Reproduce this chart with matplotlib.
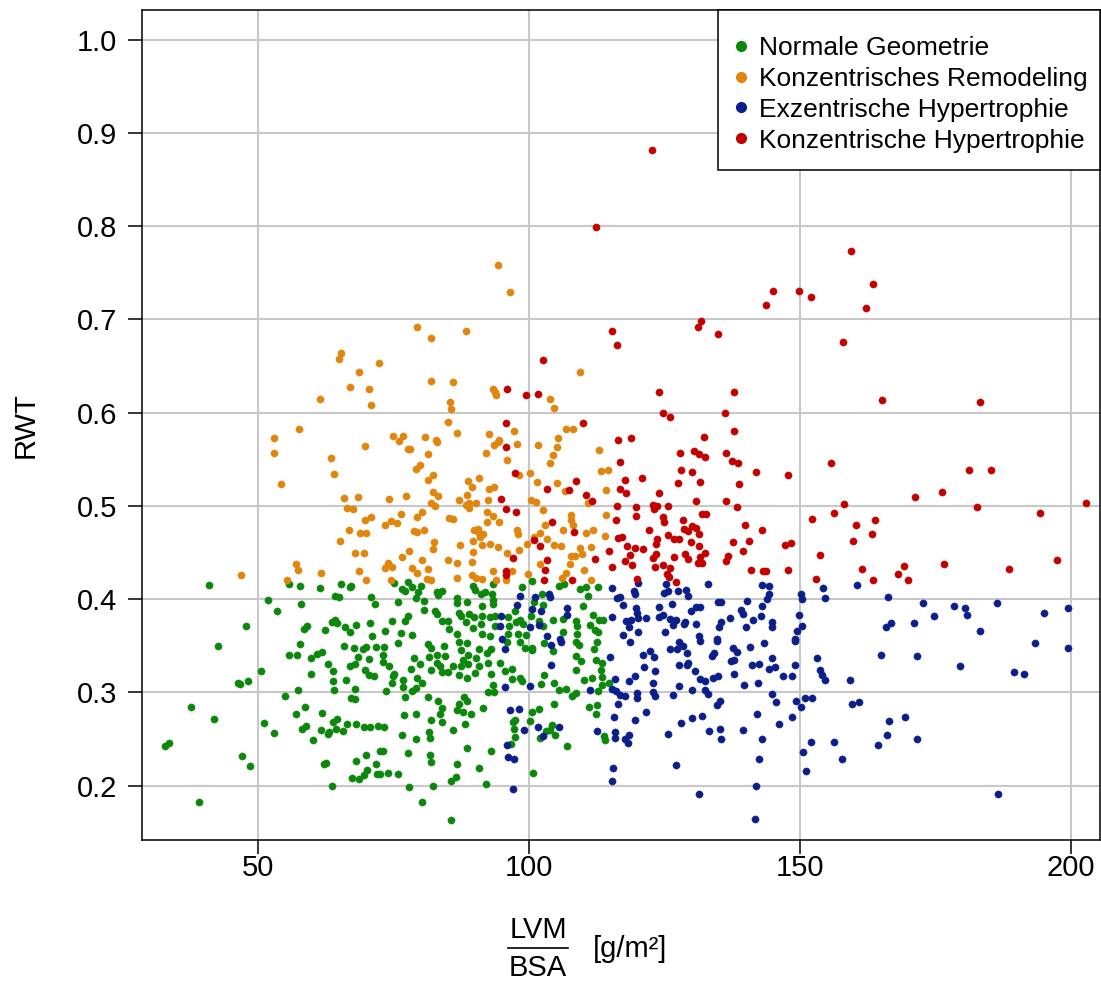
"""plot.py — RWT vs. indexed LV mass, scatter by geometry class."""

import matplotlib
matplotlib.use("Agg")
import matplotlib.pyplot as plt
from matplotlib.lines import Line2D
from matplotlib.patches import Rectangle

# ---------------------------------------------------------------------------
# Data (LVM/BSA [g/m²], RWT)
# ---------------------------------------------------------------------------

normal_geometry = [
    # left sparse part
    (40.9, 0.415), (55.8, 0.416), (57.8, 0.414), (61.4, 0.412), (65.3, 0.416), (66.9, 0.413),
    (67.2, 0.414), (51.9, 0.399), (57.9, 0.395), (53.5, 0.387), (64.2, 0.403), (65.0, 0.402),
    (70.8, 0.402), (71.6, 0.395), (47.8, 0.371), (58.4, 0.368), (59.1, 0.371), (62.3, 0.367),
    (63.6, 0.376), (64.2, 0.378), (64.6, 0.374), (66.1, 0.370), (66.9, 0.365), (68.0, 0.372),
    (70.6, 0.374), (71.0, 0.360),
    (42.6, 0.350), (57.8, 0.352), (55.7, 0.340), (57.2, 0.340), (59.7, 0.337), (60.8, 0.341),
    (61.8, 0.343), (65.8, 0.350), (67.8, 0.348), (69.3, 0.347), (70.0, 0.349), (71.8, 0.349),
    (68.4, 0.338), (70.5, 0.336), (62.9, 0.330), (67.0, 0.328), (67.9, 0.330), (63.9, 0.323),
    (69.8, 0.324), (70.4, 0.319), (71.4, 0.318), (50.6, 0.323), (59.8, 0.320), (46.3, 0.310),
    (46.7, 0.309), (48.2, 0.312), (63.9, 0.312), (66.2, 0.313), (57.4, 0.303), (64.1, 0.302),
    (67.9, 0.304), (54.9, 0.296), (67.2, 0.294), (67.9, 0.293), (37.6, 0.284), (41.9, 0.271),
    (57.1, 0.277), (58.6, 0.284), (61.8, 0.278), (51.2, 0.267), (53.0, 0.256), (58.1, 0.261),
    (58.8, 0.264), (60.1, 0.249), (61.6, 0.260), (63.0, 0.255), (63.1, 0.257), (63.9, 0.268),
    (64.6, 0.271), (64.4, 0.261), (65.6, 0.259), (66.5, 0.266), (68.0, 0.266), (69.6, 0.263),
    (70.7, 0.263), (72.1, 0.264), (32.8, 0.242), (33.6, 0.246), (47.0, 0.232), (48.5, 0.221),
    (62.1, 0.223), (62.5, 0.224), (68.1, 0.226), (69.9, 0.233), (71.7, 0.223), (70.1, 0.217),
    (69.6, 0.211), (67.3, 0.208), (68.7, 0.207), (72.0, 0.212), (63.7, 0.200), (39.1, 0.182),
    (72.5, 0.237),
    # dense middle, upper part
    (75.1, 0.417), (76.6, 0.411), (77.2, 0.409), (77.7, 0.418), (78.5, 0.413), (80.1, 0.414),
    (79.6, 0.408), (75.8, 0.397), (79.2, 0.401), (80.7, 0.398), (80.7, 0.388), (77.7, 0.382),
    (74.8, 0.377), (73.4, 0.366), (77.1, 0.377), (76.4, 0.364), (78.5, 0.362), (83.0, 0.408),
    (83.9, 0.409), (83.3, 0.404), (86.7, 0.401), (86.8, 0.396), (88.5, 0.397), (89.7, 0.414),
    (90.0, 0.410), (91.1, 0.405), (91.8, 0.408), (93.1, 0.406), (93.3, 0.416), (93.3, 0.399),
    (93.4, 0.395), (91.3, 0.393), (82.7, 0.387), (83.1, 0.384), (83.9, 0.377), (85.1, 0.377),
    (85.2, 0.368), (87.1, 0.385), (87.5, 0.382), (88.4, 0.376), (89.0, 0.384), (89.9, 0.381),
    (91.4, 0.382), (92.8, 0.381), (93.8, 0.382), (91.1, 0.373), (89.6, 0.369), (91.3, 0.363),
    (86.7, 0.363), (92.8, 0.360), (93.7, 0.371), (96.1, 0.381), (96.4, 0.371), (97.6, 0.376),
    (97.4, 0.387), (98.3, 0.378), (98.7, 0.413), (98.9, 0.373), (96.2, 0.363), (97.9, 0.363),
    (99.4, 0.362), (100.5, 0.419), (102.4, 0.406), (101.0, 0.397), (102.5, 0.394), (100.4, 0.382),
    (101.8, 0.377), (102.6, 0.371), (104.5, 0.378), (106.2, 0.379), (105.5, 0.414), (106.5, 0.416),
    (109.4, 0.411), (110.6, 0.413), (110.9, 0.403), (109.9, 0.393), (111.9, 0.383), (112.8, 0.413),
    (112.9, 0.378), (113.6, 0.378), (108.7, 0.377), (108.8, 0.371), (111.3, 0.372), (106.2, 0.365),
    (108.8, 0.363), (112.1, 0.367), (112.8, 0.365),
    # dense middle, lower part
    (75.9, 0.353), (73.2, 0.349), (73.0, 0.340), (73.0, 0.333), (74.2, 0.328), (75.1, 0.320),
    (75.0, 0.317), (74.8, 0.310), (73.6, 0.301), (76.8, 0.313), (76.7, 0.306), (78.7, 0.337),
    (79.9, 0.330), (78.2, 0.325), (79.3, 0.315), (80.2, 0.310), (79.2, 0.305), (78.4, 0.301),
    (77.1, 0.295), (81.4, 0.352), (82.0, 0.348), (84.3, 0.350), (81.5, 0.338), (83.1, 0.340),
    (84.5, 0.339), (83.0, 0.331), (83.6, 0.328), (82.0, 0.324), (83.9, 0.322), (85.1, 0.322),
    (85.9, 0.328), (87.1, 0.354), (88.6, 0.353), (87.4, 0.345), (88.8, 0.340), (87.8, 0.335),
    (87.4, 0.328), (88.8, 0.330), (90.3, 0.337), (90.8, 0.328), (90.8, 0.346), (92.2, 0.342),
    (93.0, 0.347), (92.5, 0.332), (87.0, 0.319), (88.6, 0.315), (90.0, 0.321), (93.0, 0.320),
    (93.3, 0.308), (92.5, 0.300), (93.6, 0.300), (81.3, 0.295), (83.3, 0.291), (83.9, 0.283),
    (83.5, 0.277), (88.0, 0.295), (88.5, 0.291), (87.0, 0.288), (86.8, 0.281), (87.8, 0.279),
    (89.3, 0.277), (91.6, 0.283), (88.2, 0.266), (76.9, 0.276), (79.2, 0.277), (82.0, 0.270),
    (83.9, 0.268), (73.3, 0.263), (76.5, 0.254), (79.1, 0.250), (81.6, 0.257), (81.8, 0.251),
    (85.9, 0.260), (73.0, 0.237), (77.6, 0.235), (81.7, 0.233), (81.9, 0.225), (88.6, 0.240),
    (93.0, 0.237), (86.8, 0.223), (90.8, 0.219), (72.5, 0.212), (74.0, 0.213), (75.9, 0.212),
    (86.5, 0.209), (85.7, 0.205), (92.1, 0.202), (77.8, 0.198), (82.2, 0.200), (80.3, 0.182),
    (85.6, 0.163), (94.6, 0.331), (95.6, 0.323), (96.9, 0.325), (96.9, 0.314), (98.3, 0.315),
    (98.8, 0.312), (95.9, 0.354), (98.3, 0.354), (99.2, 0.348), (100.6, 0.348), (100.5, 0.345),
    (102.8, 0.353), (104.5, 0.344), (102.8, 0.319), (102.2, 0.309), (104.7, 0.310), (105.5, 0.302),
    (106.8, 0.304), (108.0, 0.296), (108.6, 0.299), (108.7, 0.339), (109.6, 0.334), (108.7, 0.324),
    (110.2, 0.313), (111.6, 0.315), (113.4, 0.316), (113.5, 0.308), (114.7, 0.310), (112.7, 0.301),
    (113.4, 0.331), (113.3, 0.324), (112.3, 0.335), (112.0, 0.346), (112.5, 0.354), (109.2, 0.351),
    (108.7, 0.354), (104.6, 0.288), (101.8, 0.282), (100.5, 0.279), (100.1, 0.269), (97.5, 0.270),
    (97.1, 0.268), (97.3, 0.261), (97.4, 0.252), (96.6, 0.245), (103.1, 0.259), (104.2, 0.265),
    (103.9, 0.260), (104.8, 0.254), (102.1, 0.251), (107.1, 0.242), (111.1, 0.284), (112.5, 0.286),
    (112.4, 0.277), (113.8, 0.253), (114.1, 0.249), (100.7, 0.213),
]

concentric_remodeling = [
    (65.3, 0.664), (64.9, 0.658), (72.4, 0.653), (68.6, 0.644), (67.0, 0.628), (70.5, 0.625),
    (61.4, 0.615), (70.9, 0.608), (57.6, 0.582), (52.9, 0.573),
    (94.3, 0.758), (96.5, 0.729), (79.4, 0.692), (81.9, 0.680), (88.3, 0.688), (81.9, 0.634),
    (86.0, 0.633), (93.3, 0.625), (93.7, 0.622), (94.0, 0.619), (85.4, 0.611), (85.6, 0.604),
    (103.9, 0.615), (104.6, 0.605), (109.5, 0.644), (85.1, 0.590), (86.7, 0.578), (75.0, 0.575),
    (76.8, 0.575), (80.8, 0.574), (82.8, 0.571), (92.6, 0.577), (94.4, 0.571), (97.2, 0.580),
    (105.3, 0.573), (106.8, 0.583), (108.1, 0.582),
    (69.7, 0.564), (53.0, 0.557), (63.5, 0.551), (64.0, 0.534), (54.2, 0.524), (65.9, 0.508),
    (68.4, 0.510), (66.4, 0.498), (67.5, 0.497), (69.7, 0.485), (70.8, 0.488), (66.7, 0.474),
    (68.8, 0.471), (69.9, 0.471), (65.1, 0.462), (67.9, 0.449), (69.5, 0.449), (57.1, 0.438),
    (57.4, 0.431), (61.6, 0.428), (46.9, 0.426), (55.4, 0.420), (68.7, 0.430), (69.9, 0.420),
    (76.0, 0.570), (83.0, 0.569), (77.7, 0.561), (78.1, 0.561), (81.3, 0.556), (79.8, 0.544),
    (79.2, 0.540), (82.2, 0.533), (81.4, 0.528), (74.2, 0.507), (77.3, 0.511), (82.2, 0.515),
    (83.3, 0.511), (81.9, 0.503), (82.7, 0.500), (87.0, 0.506), (88.6, 0.512), (88.7, 0.527),
    (89.5, 0.520), (90.7, 0.530), (92.6, 0.518), (93.6, 0.520), (88.9, 0.503), (88.3, 0.501),
    (89.0, 0.498), (90.3, 0.503), (92.5, 0.506), (93.5, 0.565), (94.2, 0.569), (92.1, 0.557),
    (96.0, 0.549), (97.8, 0.566), (98.2, 0.533), (100.1, 0.535), (101.6, 0.565), (105.2, 0.563),
    (104.5, 0.555), (103.9, 0.546), (112.9, 0.560), (113.3, 0.537), (114.6, 0.538), (101.4, 0.526),
    (105.2, 0.525), (106.7, 0.516), (114.2, 0.517), (100.4, 0.506), (101.3, 0.504), (102.5, 0.496),
    (110.8, 0.503), (107.7, 0.490), (107.8, 0.485), (108.1, 0.480), (114.2, 0.490), (76.3, 0.491),
    (79.3, 0.488), (80.2, 0.494), (74.6, 0.484), (75.6, 0.482), (73.4, 0.479), (85.2, 0.487),
    (85.9, 0.486), (92.2, 0.494), (93.3, 0.489), (94.5, 0.483), (92.3, 0.483), (78.7, 0.473),
    (79.3, 0.472), (80.7, 0.474), (89.9, 0.474), (90.5, 0.475), (90.8, 0.471), (91.0, 0.467),
    (91.6, 0.470), (89.6, 0.462), (82.4, 0.461), (97.7, 0.474), (97.9, 0.470), (102.9, 0.479),
    (102.1, 0.471), (100.9, 0.467), (103.4, 0.464), (106.3, 0.474), (110.5, 0.471), (111.8, 0.474),
    (114.0, 0.468), (82.2, 0.454), (87.2, 0.458), (77.9, 0.452), (76.6, 0.445), (91.4, 0.458),
    (92.8, 0.459), (94.2, 0.456), (89.6, 0.451), (95.9, 0.449), (98.1, 0.453), (99.7, 0.459),
    (104.6, 0.458), (105.9, 0.457), (109.5, 0.455), (111.4, 0.456), (107.7, 0.446), (108.5, 0.446),
    (109.8, 0.448), (107.6, 0.438), (80.3, 0.442), (85.1, 0.442), (86.7, 0.439), (89.4, 0.440),
    (74.0, 0.439), (73.5, 0.433), (74.7, 0.435), (78.4, 0.433), (81.4, 0.432), (79.3, 0.428),
    (96.8, 0.430), (93.3, 0.430), (102.1, 0.438), (106.9, 0.428), (110.2, 0.431), (74.5, 0.421),
    (81.1, 0.422), (82.0, 0.420), (86.8, 0.423), (89.4, 0.426), (90.2, 0.423), (91.3, 0.422),
    (94.0, 0.420), (95.8, 0.421), (99.9, 0.427), (106.0, 0.423), (111.4, 0.420),
]

eccentric_hypertrophy = [
    (98.4, 0.403), (97.7, 0.394), (101.2, 0.402), (103.6, 0.406), (103.9, 0.402), (100.5, 0.389),
    (102.2, 0.387), (94.8, 0.382), (94.6, 0.371), (100.2, 0.370), (101.8, 0.372), (107.1, 0.390),
    (107.1, 0.383), (115.3, 0.412), (116.2, 0.401), (115.3, 0.381), (103.3, 0.360), (105.7, 0.357),
    (95.1, 0.357),
    (120.2, 0.417), (125.2, 0.416), (133.0, 0.416), (142.9, 0.415), (144.3, 0.414), (154.2, 0.412),
    (160.6, 0.415), (119.3, 0.409), (119.6, 0.406), (125.0, 0.407), (125.7, 0.409), (127.4, 0.409),
    (129.0, 0.410), (129.4, 0.403), (144.2, 0.406), (143.9, 0.400), (150.2, 0.406), (150.3, 0.400),
    (154.6, 0.401), (116.8, 0.402), (117.3, 0.394), (119.7, 0.391), (120.0, 0.385), (123.9, 0.392),
    (126.3, 0.395), (130.9, 0.392), (131.5, 0.392), (134.9, 0.397), (135.4, 0.397), (140.2, 0.398),
    (143.0, 0.393), (129.8, 0.387), (139.2, 0.388), (139.5, 0.384), (142.8, 0.382), (149.9, 0.383),
    (117.9, 0.377), (118.8, 0.378), (120.2, 0.380), (121.5, 0.380), (124.0, 0.381), (124.7, 0.383),
    (126.1, 0.379), (127.1, 0.378), (128.8, 0.376), (126.6, 0.372), (128.6, 0.373), (130.9, 0.373),
    (135.4, 0.376), (137.0, 0.380), (141.4, 0.378), (144.8, 0.376), (144.9, 0.370), (150.3, 0.371),
    (149.5, 0.366), (135.1, 0.370), (140.0, 0.370), (118.5, 0.370), (120.2, 0.365), (125.1, 0.365),
    (117.3, 0.362), (131.3, 0.360), (134.6, 0.357), (149.0, 0.357),
    (166.2, 0.402), (172.7, 0.396), (178.5, 0.393), (180.4, 0.390), (180.8, 0.383), (186.4, 0.396),
    (174.7, 0.382), (166.8, 0.374), (165.9, 0.370), (171.1, 0.374), (183.2, 0.366), (195.1, 0.385),
    (199.5, 0.391),
    (193.4, 0.353), (199.4, 0.348), (164.9, 0.340), (171.5, 0.339), (179.6, 0.328), (189.4, 0.322),
    (191.3, 0.320), (166.4, 0.269), (169.3, 0.274), (166.0, 0.254), (164.3, 0.243), (171.6, 0.250),
    (186.5, 0.191),
    (118.6, 0.354), (127.6, 0.354), (128.4, 0.350), (126.1, 0.347), (127.3, 0.346), (131.6, 0.355),
    (134.6, 0.355), (122.4, 0.344), (123.0, 0.338), (121.0, 0.340), (129.2, 0.342), (137.6, 0.348),
    (138.4, 0.343), (140.8, 0.349), (143.4, 0.353), (149.1, 0.355), (153.1, 0.337), (134.1, 0.342),
    (133.8, 0.339), (137.3, 0.334), (137.9, 0.335), (129.4, 0.332), (129.1, 0.329), (127.7, 0.329),
    (141.1, 0.329), (142.5, 0.330), (144.8, 0.337), (144.2, 0.325), (145.3, 0.327), (149.0, 0.329),
    (121.2, 0.327), (123.3, 0.323), (130.7, 0.323), (137.8, 0.320), (146.8, 0.318), (148.6, 0.318),
    (153.6, 0.324), (154.1, 0.319), (154.6, 0.313), (159.2, 0.313), (119.6, 0.317), (118.5, 0.312),
    (122.8, 0.310), (131.5, 0.314), (132.4, 0.312), (133.9, 0.315), (134.8, 0.318), (139.7, 0.308),
    (142.3, 0.310), (127.7, 0.307), (116.8, 0.297), (117.8, 0.296), (120.0, 0.299), (119.9, 0.294),
    (122.9, 0.300), (123.3, 0.296), (126.5, 0.297), (130.0, 0.303), (132.5, 0.303), (133.0, 0.298),
    (135.2, 0.291), (134.6, 0.286), (144.9, 0.298), (145.5, 0.290), (149.3, 0.291), (150.1, 0.284),
    (151.0, 0.294), (152.3, 0.294), (159.6, 0.288), (160.8, 0.290), (121.5, 0.279), (119.5, 0.270),
    (142.0, 0.277), (148.5, 0.274), (146.1, 0.266), (128.0, 0.267), (130.0, 0.272), (131.9, 0.275),
    (125.7, 0.255), (133.3, 0.258), (135.2, 0.261), (135.4, 0.250), (139.4, 0.260), (143.0, 0.250),
    (117.7, 0.250), (118.4, 0.254), (118.3, 0.246), (152.1, 0.247), (156.2, 0.247), (150.5, 0.236),
    (142.4, 0.229), (157.8, 0.229), (151.1, 0.216), (127.1, 0.222), (141.9, 0.200), (131.4, 0.191),
    (141.7, 0.164),
    (95.5, 0.346), (104.1, 0.351), (105.9, 0.354), (104.1, 0.329), (114.9, 0.338), (95.6, 0.306),
    (100.2, 0.307), (111.3, 0.302), (115.9, 0.314), (115.4, 0.304), (116.0, 0.301), (116.4, 0.288),
    (96.5, 0.281), (98.2, 0.282), (99.1, 0.260), (101.7, 0.263), (102.5, 0.253), (105.6, 0.263),
    (115.7, 0.274), (112.5, 0.259), (115.9, 0.257), (115.9, 0.251), (96.0, 0.243), (96.1, 0.231),
    (97.2, 0.229), (115.5, 0.219), (115.3, 0.205), (97.0, 0.196),
]

concentric_hypertrophy = [
    (122.7, 0.882), (112.4, 0.799),
    (115.3, 0.688), (116.2, 0.673), (102.6, 0.657), (95.9, 0.625), (99.4, 0.619), (101.7, 0.620),
    (95.8, 0.589), (110.0, 0.589), (116.5, 0.571),
    (159.4, 0.773), (145.1, 0.731), (149.9, 0.731), (152.0, 0.724), (143.8, 0.716), (131.7, 0.698),
    (131.1, 0.692), (134.9, 0.684), (158.0, 0.676), (123.9, 0.622), (137.9, 0.622), (124.7, 0.600),
    (126.1, 0.595), (136.1, 0.600), (137.9, 0.580), (132.3, 0.574), (118.8, 0.573),
    (163.5, 0.738), (162.1, 0.712), (165.1, 0.614), (183.2, 0.611),
    (181.2, 0.538), (185.2, 0.539), (171.3, 0.510), (176.2, 0.515), (182.7, 0.499), (194.3, 0.492),
    (202.8, 0.503), (163.9, 0.485), (163.2, 0.470), (161.5, 0.432), (169.1, 0.436), (168.1, 0.427),
    (169.9, 0.420), (163.5, 0.420), (176.6, 0.438), (188.6, 0.432), (197.4, 0.442),
    (127.8, 0.557), (130.4, 0.559), (131.4, 0.556), (132.4, 0.553), (136.3, 0.557), (137.5, 0.548),
    (138.6, 0.546), (141.8, 0.536), (147.8, 0.533), (155.7, 0.546), (116.8, 0.547), (128.0, 0.539),
    (130.0, 0.536), (120.9, 0.530), (117.8, 0.528), (127.4, 0.525), (131.5, 0.526), (138.8, 0.524),
    (116.8, 0.518), (117.9, 0.514), (124.0, 0.514), (130.8, 0.505), (136.3, 0.505), (122.9, 0.501),
    (123.7, 0.500), (125.6, 0.500), (119.7, 0.499), (123.1, 0.497), (138.3, 0.499), (158.1, 0.502),
    (156.2, 0.492), (152.3, 0.486), (160.3, 0.479), (119.7, 0.489), (124.7, 0.488), (125.0, 0.483),
    (131.9, 0.491), (132.7, 0.491), (128.4, 0.485), (139.9, 0.480), (142.9, 0.474), (122.2, 0.474),
    (128.6, 0.475), (129.4, 0.473), (130.0, 0.478), (130.8, 0.476), (131.4, 0.470), (125.6, 0.469),
    (126.8, 0.465), (127.6, 0.464), (123.6, 0.464), (123.4, 0.459), (129.8, 0.461), (117.2, 0.467),
    (118.0, 0.457), (119.5, 0.455), (121.0, 0.454), (131.4, 0.457), (137.6, 0.461), (140.5, 0.462),
    (147.2, 0.458), (148.3, 0.460), (159.7, 0.462), (139.5, 0.452), (132.4, 0.450), (118.6, 0.447),
    (123.4, 0.448), (126.8, 0.445), (128.8, 0.448), (129.3, 0.443), (131.6, 0.445), (136.8, 0.446),
    (136.3, 0.441), (153.7, 0.447), (122.8, 0.444), (117.7, 0.441), (119.0, 0.437), (123.3, 0.435),
    (124.7, 0.437), (126.0, 0.433), (131.1, 0.439), (131.9, 0.439), (140.9, 0.431), (143.1, 0.430),
    (143.8, 0.430), (147.7, 0.431), (125.4, 0.427), (125.8, 0.424), (119.9, 0.422), (127.1, 0.418),
    (152.9, 0.422),
    (95.8, 0.563), (97.4, 0.535), (108.7, 0.527), (103.3, 0.518), (107.3, 0.517), (110.6, 0.512),
    (111.7, 0.505), (94.9, 0.507), (95.7, 0.497), (97.6, 0.494), (104.3, 0.483), (108.3, 0.472),
    (116.0, 0.485), (116.3, 0.500), (100.9, 0.463), (102.0, 0.457), (97.0, 0.444), (103.3, 0.442),
    (102.9, 0.431), (102.8, 0.421), (95.8, 0.430), (95.7, 0.426), (112.1, 0.443), (114.8, 0.452),
    (115.3, 0.434), (107.9, 0.420), (116.5, 0.466),
]

group_labels = [
    "Normale Geometrie",
    "Konzentrisches Remodeling",
    "Exzentrische Hypertrophie",
    "Konzentrische Hypertrophie",
]
group_colors = ["#0B870B", "#E0860F", "#0C1E8A", "#C30000"]

x_ticks = [50, 100, 150, 200]
y_ticks = [0.2, 0.3, 0.4, 0.5, 0.6, 0.7, 0.8, 0.9, 1.0]

W, H = 1101, 986


def main() -> None:
    plt.rcParams["font.family"] = ["Liberation Sans", "DejaVu Sans"]
    fs = 21
    fs_leg = 19

    fig = plt.figure(figsize=(W / 100, H / 100), dpi=100)
    ax = fig.add_axes([142 / W, 1 - 840 / H, (1100 - 142) / W, (840 - 10) / H])

    ax.set_xlim(28.6, 205.35)
    ax.set_ylim(0.1416, 1.032)

    ax.set_xticks(x_ticks)
    ax.set_yticks(y_ticks)
    ax.set_yticklabels([f"{v:.1f}" for v in y_ticks])
    ax.grid(True, color="#C8C8C8", linewidth=1.5, zorder=0)
    ax.set_axisbelow(True)
    ax.tick_params(axis="both", labelsize=fs, length=10, width=1.1, direction="out")
    ax.tick_params(axis="y", pad=8)
    ax.tick_params(axis="x", pad=0)
    for sp in ax.spines.values():
        sp.set_linewidth(1.1)
        sp.set_color("black")

    groups = [normal_geometry, concentric_remodeling, eccentric_hypertrophy, concentric_hypertrophy]
    for pts, color in zip(groups, group_colors):
        xs = [p[0] for p in pts]
        ys = [p[1] for p in pts]
        ax.plot(xs, ys, linestyle="none", marker="o", markersize=5.2,
                markerfacecolor=color, markeredgecolor=color, markeredgewidth=0.3, zorder=3)

    ax.set_ylabel("RWT", fontsize=fs, labelpad=27)

    # Legend: box drawn separately so the padding can follow the R layout
    box = Rectangle((718 / W, 1 - 170 / H), 382 / W, 160 / H, transform=fig.transFigure,
                    facecolor="white", edgecolor="black", linewidth=1.1, zorder=4)
    ax.add_artist(box)
    box.set_clip_on(False)

    handles = [Line2D([], [], linestyle="none", marker="o", markersize=7,
                      markerfacecolor=c, markeredgecolor=c) for c in group_colors]
    leg = ax.legend(handles, group_labels, loc="upper right",
                    bbox_to_anchor=(1088 / W, 1 - 36 / H), bbox_transform=fig.transFigure,
                    fontsize=fs_leg, frameon=False, borderaxespad=0, borderpad=0,
                    labelspacing=0.26, handlelength=0.4, handletextpad=0.48)
    leg.set_zorder(5)

    # X label: fraction LVM / BSA followed by unit
    fig.text(538 / W, 1 - 930 / H, "LVM", ha="center", va="center", fontsize=fs)
    fig.text(538 / W, 1 - 968 / H, "BSA", ha="center", va="center", fontsize=fs)
    fig.add_artist(Line2D([508 / W, 568 / W], [1 - 948 / H, 1 - 948 / H],
                          color="black", linewidth=1.2, transform=fig.transFigure))
    fig.text(630 / W, 1 - 949 / H, "[g/m²]", ha="center", va="center", fontsize=fs)

    fig.savefig("out.png", dpi=100)
    plt.close(fig)


if __name__ == "__main__":
    main()
